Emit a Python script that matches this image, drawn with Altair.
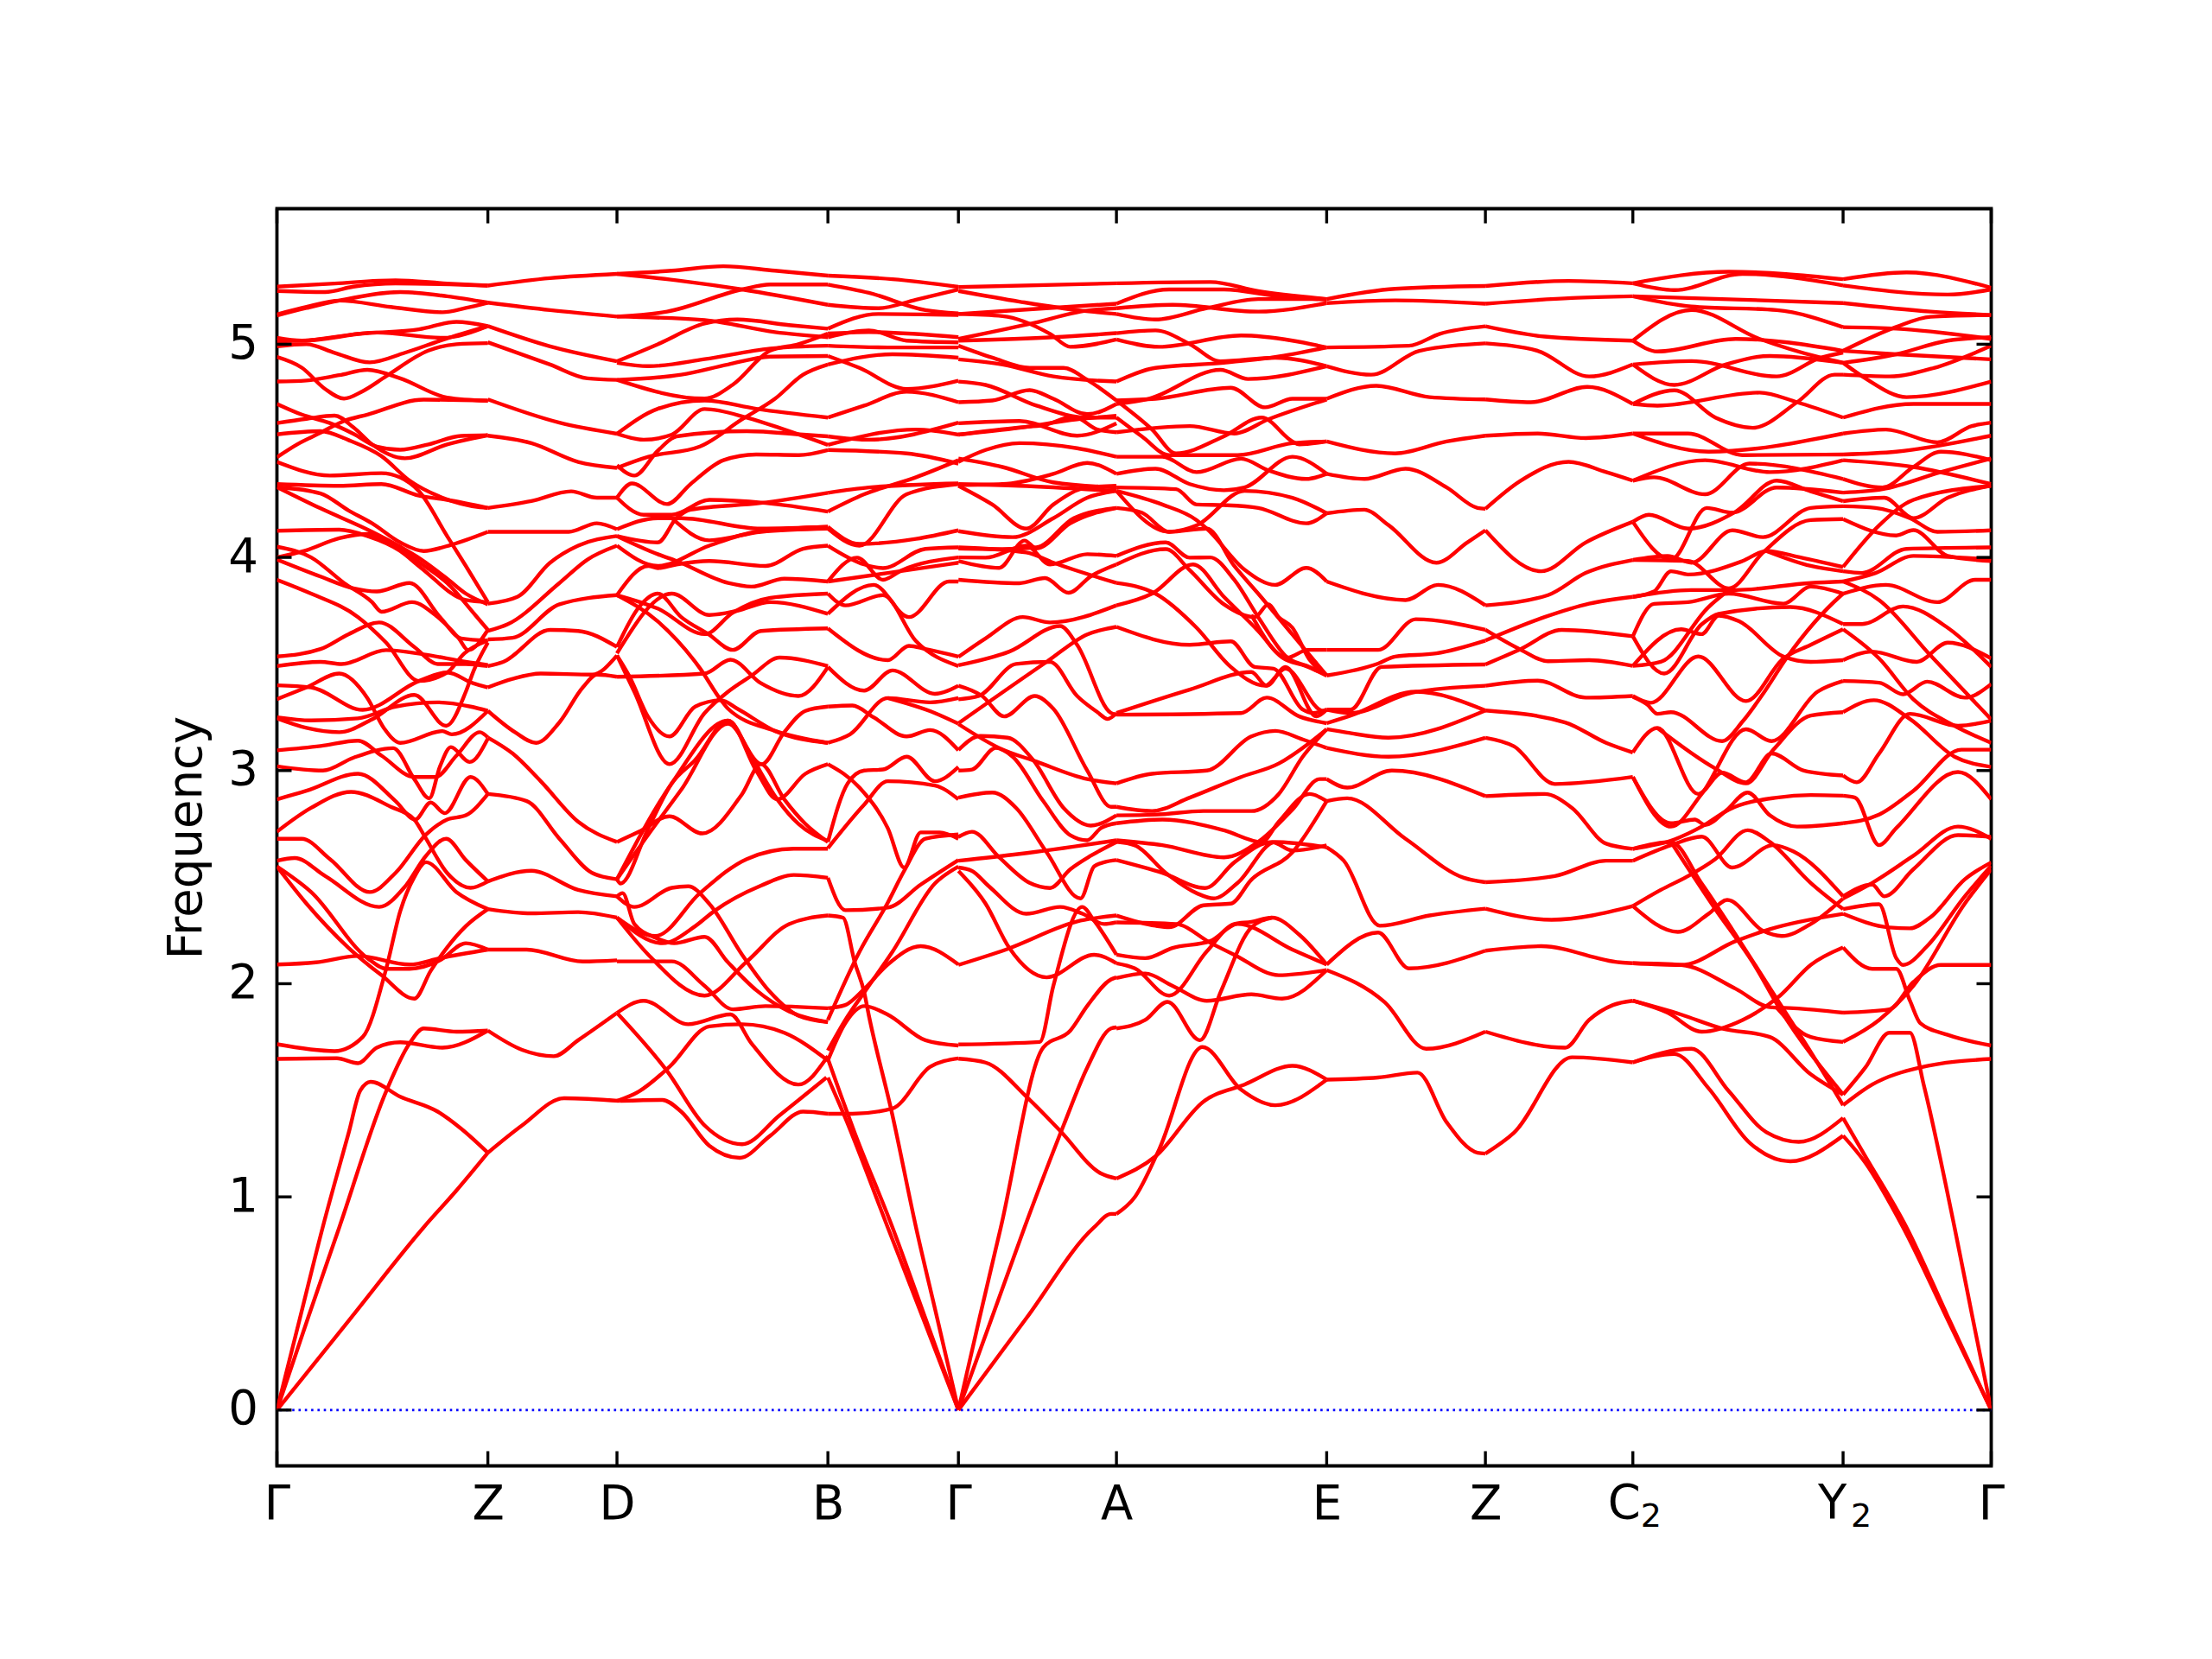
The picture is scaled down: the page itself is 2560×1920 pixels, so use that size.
import altair as alt
import pandas as pd

TICK_K = [196, 345.5, 437, 586.5, 679, 791, 940, 1052.5, 1157, 1306, 1411]
TICK_LABELS = ["Γ", "Z", "D", "B", "Γ", "A", "E", "Z", "", "", "Γ"]
SUB_K = [1157, 1306]
SUB_BASE = ["C", "Y"]
SUB_DIGIT = ["2", "2"]
FREQ_TICKS = [0, 1, 2, 3, 4, 5]

# each curve: (position read along the segment, frequency)
G_Z = [
[(37,5.27),(160,5.285),(290,5.30),(400,5.285),(487,5.275)],
[(37,5.25),(140,5.245),(200,5.27),(290,5.285),(487,5.275)],
[(37,5.135),(100,5.17),(170,5.205),(300,5.245),(400,5.225),(487,5.195)],
[(37,5.14),(100,5.175),(170,5.205),(280,5.175),(390,5.15),(440,5.17),(487,5.195)],
[(37,5.03),(90,5.017),(220,5.05),(340,5.07),(420,5.105),(487,5.085)],
[(37,5.015),(90,5.017),(250,5.055),(390,5.03),(487,5.085)],
[(37,4.99),(100,5.0),(160,4.96),(235,4.915),(310,4.96),(390,5.02),(487,5.085)],
[(37,4.94),(90,4.89),(140,4.79),(180,4.745),(220,4.78),(270,4.85),(360,4.97),(420,5.0),(487,5.005)],
[(37,4.825),(100,4.83),(170,4.855),(230,4.88),(300,4.84),(400,4.75),(487,4.735)],
[(37,4.47),(80,4.53),(130,4.585),(180,4.64),(230,4.67),(350,4.74),(487,4.735)],
[(37,4.72),(90,4.67),(150,4.63),(200,4.58),(250,4.52),(300,4.505),(360,4.53),(430,4.57),(487,4.573)],
[(37,4.63),(100,4.65),(160,4.665),(200,4.61),(240,4.53),(310,4.465),(400,4.53),(487,4.573)],
[(37,4.577),(130,4.592),(190,4.55),(260,4.475),(320,4.36),(390,4.28),(470,4.235),(487,4.232)],
[(37,4.448),(150,4.384),(260,4.395),(300,4.375),(340,4.31),(400,4.1),(440,3.96),(487,3.79)],
[(37,4.344),(170,4.336),(260,4.344),(340,4.29),(400,4.27),(487,4.232)],
[(37,4.125),(170,4.13),(230,4.10),(300,4.03),(345,3.95),(440,3.80),(487,3.79)],
[(37,4.33),(130,4.30),(190,4.22),(240,4.16),(300,4.07),(350,4.03),(410,4.06),(487,4.12)],
[(37,4.33),(130,4.23),(240,4.12),(300,4.05),(345,3.99),(400,3.9),(440,3.83),(487,3.78)],
[(37,4.05),(110,4.0),(180,3.88),(240,3.79),(260,3.745),(325,3.79),(380,3.72),(425,3.62),(445,3.565),(487,3.66)],
[(37,3.99),(130,3.91),(200,3.855),(250,3.84),(320,3.88),(385,3.72),(430,3.62),(487,3.61)],
[(37,4.0),(95,4.03),(170,4.09),(230,4.11),(290,4.05),(345,3.97),(400,3.88),(460,3.73),(487,3.66)],
[(37,3.895),(110,3.83),(210,3.72),(270,3.6),(340,3.42),(400,3.46),(437,3.55),(487,3.61)],
[(37,3.535),(130,3.57),(190,3.64),(255,3.695),(330,3.58),(380,3.5),(440,3.5),(487,3.49)],
[(37,3.49),(130,3.51),(175,3.5),(270,3.565),(350,3.545),(440,3.51),(487,3.495)],
[(37,3.40),(110,3.39),(220,3.285),(340,3.42),(400,3.46),(455,3.41),(487,3.39)],
[(37,3.335),(100,3.39),(170,3.455),(230,3.34),(265,3.2),(300,3.13),(390,3.185),(410,3.17),(487,3.28)],
[(37,3.25),(110,3.235),(210,3.245),(290,3.3),(380,3.32),(450,3.3),(487,3.28)],
[(37,3.245),(100,3.2),(170,3.18),(240,3.24),(330,3.355),(398,3.21),(440,3.37),(457,3.47),(487,3.6)],
[(37,3.095),(130,3.115),(210,3.14),(260,3.07),(330,2.97),(375,2.97),(420,3.07),(470,3.18),(487,3.155)],
[(37,3.02),(135,3.0),(200,3.06),(285,3.105),(330,2.96),(362,2.87),(385,3.02),(408,3.11),(448,3.04),(487,3.15)],
[(37,2.865),(100,2.905),(210,2.985),(290,2.857),(332,2.77),(365,2.85),(395,2.80),(450,2.97),(487,2.89)],
[(37,2.713),(110,2.825),(195,2.90),(280,2.83),(330,2.77),(350,2.70),(400,2.52),(450,2.45),(487,2.48)],
[(37,2.68),(90,2.68),(150,2.585),(235,2.43),(290,2.52),(355,2.70),(400,2.77),(440,2.79),(487,2.89)],
[(37,2.577),(75,2.59),(140,2.505),(255,2.36),(310,2.455),(355,2.60),(398,2.68),(440,2.58),(487,2.48)],
[(37,2.55),(100,2.376),(190,2.168),(260,2.04),(330,1.93),(365,2.06),(400,2.17),(440,2.27),(487,2.35)],
[(37,2.55),(110,2.43),(230,2.12),(270,2.07),(320,2.07),(385,2.11),(440,2.19),(487,2.16)],
[(37,2.09),(120,2.1),(210,2.13),(320,2.09),(385,2.12),(487,2.16)],
[(37,1.716),(160,1.684),(220,1.75),(270,2.07),(300,2.34),(330,2.5),(355,2.57),(420,2.43),(487,2.35)],
[(37,1.647),(165,1.65),(210,1.627),(250,1.70),(300,1.725),(390,1.70),(487,1.78)],
[(37,0),(86,0.43),(135,0.86),(190,1.3),(215,1.5),(237,1.54),(300,1.47),(380,1.40),(430,1.32),(487,1.207)],
[(37,0),(103,0.43),(170,0.857),(270,1.495),(320,1.72),(350,1.79),(420,1.775),(487,1.78)],
[(37,0),(194,0.43),(350,0.857),(420,1.03),(487,1.207)],
]

Z_D = [
[(487,5.275),(620,5.31),(763,5.33)],
[(487,5.195),(620,5.16),(763,5.13)],
[(487,5.085),(620,4.99),(763,4.92)],
[(487,5.009),(620,4.905),(700,4.84),(763,4.833)],
[(487,4.741),(640,4.632),(763,4.58)],
[(487,4.571),(580,4.536),(680,4.448),(763,4.42)],
[(487,4.232),(580,4.264),(665,4.31),(720,4.28),(763,4.28)],
[(487,4.12),(660,4.12),(720,4.16),(763,4.132)],
[(487,3.783),(550,3.815),(620,3.975),(680,4.055),(763,4.10)],
[(487,3.655),(530,3.687),(640,3.88),(700,3.99),(763,4.055)],
[(487,3.615),(540,3.623),(640,3.78),(763,3.823)],
[(487,3.49),(520,3.51),(620,3.66),(680,3.655),(763,3.58)],
[(487,3.39),(540,3.43),(600,3.455),(710,3.45),(763,3.54)],
[(487,3.28),(545,3.18),(590,3.13),(640,3.226),(690,3.39),(720,3.45),(763,3.44)],
[(487,3.155),(540,3.08),(600,2.95),(680,2.76),(763,2.665)],
[(487,2.89),(570,2.857),(640,2.68),(710,2.52),(763,2.49)],
[(487,2.48),(580,2.53),(680,2.44),(763,2.41)],
[(487,2.35),(580,2.33),(680,2.336),(763,2.31)],
[(487,2.16),(570,2.16),(690,2.104),(763,2.11)],
[(487,1.78),(560,1.69),(628,1.66),(680,1.735),(763,1.863)],
[(487,1.207),(560,1.335),(650,1.463),(770,1.45)],
]

D_B = [
[(763,5.33),(880,5.345),(990,5.366),(1100,5.345),(1213,5.322)],
[(763,5.33),(900,5.297),(1030,5.257),(1213,5.185)],
[(763,5.13),(870,5.153),(1030,5.257),(1090,5.28),(1213,5.28)],
[(763,5.13),(950,5.113),(1100,5.057),(1213,5.033)],
[(763,4.92),(850,5.0),(950,5.097),(1020,5.116),(1130,5.09),(1213,5.073)],
[(763,4.913),(830,4.897),(950,4.93),(1090,4.98),(1213,4.993)],
[(763,4.833),(900,4.857),(1000,4.905),(1090,4.942),(1213,4.945)],
[(763,4.833),(950,4.745),(1010,4.81),(1090,4.97),(1150,5.0),(1213,5.05)],
[(763,4.58),(850,4.697),(950,4.736),(1060,4.697),(1213,4.656)],
[(763,4.58),(820,4.552),(880,4.576),(950,4.696),(1040,4.656),(1120,4.60),(1213,4.528)],
[(763,4.432),(800,4.384),(850,4.5),(890,4.568),(1040,4.592),(1160,4.576),(1213,4.568)],
[(763,4.42),(830,4.472),(940,4.52),(1030,4.648),(1100,4.744),(1160,4.857),(1213,4.905)],
[(763,4.28),(795,4.347),(870,4.25),(920,4.344),(990,4.456),(1060,4.483),(1150,4.48),(1213,4.504)],
[(763,4.28),(820,4.2),(880,4.2),(960,4.27),(1080,4.255),(1213,4.215)],
[(763,4.132),(850,4.184),(900,4.184),(1070,4.135),(1213,4.143)],
[(763,4.10),(850,4.07),(890,4.184),(920,4.224),(1070,4.255),(1213,4.303)],
[(763,4.10),(850,4.015),(890,3.983),(1000,3.88),(1050,3.863),(1120,3.90),(1213,3.887)],
[(763,4.055),(850,3.96),(960,4.055),(1060,4.12),(1213,4.143)],
[(880,4.184),(960,4.08),(1070,4.12),(1213,4.135)],
[(763,3.823),(830,3.96),(850,3.95),(890,3.967),(960,3.983),(1080,3.96),(1160,4.04),(1213,4.055)],
[(763,3.823),(850,3.7),(940,3.48),(985,3.33),(1000,3.29),(1100,3.186),(1213,3.13)],
[(763,3.823),(850,3.76),(950,3.64),(1010,3.74),(1090,3.81),(1213,3.83)],
[(763,3.55),(880,3.83),(960,3.73),(1020,3.75),(1090,3.79),(1213,3.735)],
[(763,3.58),(810,3.767),(850,3.83),(900,3.72),(958,3.64),(1010,3.566),(1070,3.655),(1213,3.667)],
[(763,3.54),(790,3.44),(830,3.25),(875,3.16),(930,3.3),(985,3.33),(1020,3.29),(1100,3.186),(1213,3.13)],
[(763,3.44),(950,3.455),(1005,3.52),(1070,3.41),(1150,3.35),(1213,3.486)],
[(763,3.54),(800,3.37),(875,3.03),(950,3.27),(1000,3.37),(1050,3.445),(1110,3.53),(1213,3.49)],
[(763,2.665),(810,2.713),(875,2.785),(945,2.705),(1030,2.89),(1070,3.03),(1120,2.865),(1165,2.75),(1213,2.665)],
[(763,2.49),(770,2.47),(830,2.73),(880,2.94),(930,3.05),(1000,3.234),(1050,3.065),(1105,2.865),(1150,2.75),(1213,2.67)],
[(763,2.49),(880,2.94),(1000,3.234),(1060,3.0),(1105,2.865),(1165,2.985),(1213,3.03)],
[(763,2.49),(830,2.70),(900,2.91),(1000,3.22),(1072,3.03),(1120,3.18),(1165,3.28),(1213,3.30)],
[(763,2.41),(800,2.36),(880,2.45),(915,2.457),(960,2.375),(1030,2.136),(1090,1.96),(1150,1.85),(1213,1.82)],
[(763,2.41),(775,2.425),(800,2.28),(845,2.216),(885,2.19),(950,2.22),(1000,2.1),(1060,1.97),(1130,1.87),(1213,1.82)],
[(763,2.31),(845,2.224),(940,2.425),(1040,2.585),(1140,2.633),(1213,2.633)],
[(763,2.31),(860,2.19),(930,2.27),(970,2.34),(1070,2.46),(1140,2.51),(1213,2.497)],
[(763,2.31),(830,2.136),(950,1.944),(1040,2.104),(1130,2.28),(1213,2.32)],
[(763,2.105),(880,2.105),(950,1.99),(1010,1.88),(1080,1.895),(1213,1.885)],
[(763,1.863),(820,1.92),(915,1.81),(1005,1.856),(1050,1.72),(1150,1.527),(1213,1.66)],
[(763,1.863),(870,1.59),(950,1.335),(1030,1.247),(1110,1.383),(1210,1.56)],
[(770,1.45),(860,1.455),(900,1.40),(960,1.24),(1025,1.183),(1090,1.287),(1160,1.40),(1213,1.39)],
[(763,1.45),(810,1.495),(875,1.61),(960,1.80),(1030,1.81),(1120,1.77),(1213,1.64)],
]

B_G = [
[(1213,5.322),(1350,5.305),(1490,5.269)],
[(1213,5.28),(1300,5.241),(1420,5.16),(1490,5.145)],
[(1213,5.185),(1320,5.169),(1400,5.209),(1490,5.257)],
[(1213,5.073),(1320,5.142),(1490,5.137)],
[(1213,5.033),(1300,5.065),(1380,5.017),(1490,5.009)],
[(1213,5.05),(1300,5.057),(1490,5.033)],
[(1213,4.993),(1340,4.985),(1490,4.985)],
[(1213,4.945),(1280,4.889),(1380,4.79),(1490,4.829)],
[(1213,4.905),(1350,4.953),(1490,4.937)],
[(1213,4.656),(1290,4.712),(1380,4.777),(1490,4.728)],
[(1213,4.568),(1300,4.552),(1490,4.632)],
[(1213,4.528),(1400,4.6),(1490,4.576)],
[(1213,4.504),(1380,4.488),(1490,4.44)],
[(1213,4.303),(1300,4.328),(1490,4.347)],
[(1213,4.215),(1290,4.296),(1400,4.376),(1490,4.456)],
[(1213,4.143),(1280,4.063),(1400,4.087),(1490,4.127)],
[(1213,4.135),(1280,4.055),(1380,4.296),(1490,4.344)],
[(1213,4.055),(1290,3.967),(1330,3.95),(1420,4.04),(1490,4.047)],
[(1213,3.887),(1275,3.999),(1330,3.895),(1370,3.94),(1490,4.0)],
[(1213,3.887),(1340,3.927),(1490,3.975)],
[(1213,3.667),(1340,3.518),(1385,3.585),(1420,3.57),(1490,3.535)],
[(1213,3.735),(1310,3.871),(1385,3.72),(1470,3.887),(1490,3.887)],
[(1213,3.83),(1250,3.775),(1330,3.823),(1400,3.607),(1490,3.49)],
[(1213,3.486),(1290,3.375),(1350,3.47),(1440,3.36),(1490,3.398)],
[(1213,3.30),(1265,3.305),(1310,3.25),(1380,3.16),(1430,3.19),(1490,3.095)],
[(1213,3.13),(1260,3.17),(1340,3.34),(1430,3.32),(1490,3.34)],
[(1340,3.34),(1440,3.27),(1490,3.22)],
[(1213,2.665),(1255,2.94),(1290,3.0),(1330,3.005),(1380,3.065),(1440,2.95),(1490,3.017)],
[(1213,2.636),(1290,2.84),(1340,2.95),(1440,2.93),(1490,2.865)],
[(1213,3.03),(1280,2.92),(1340,2.73),(1375,2.545),(1410,2.71),(1450,2.71),(1490,2.68)],
[(1213,2.497),(1250,2.345),(1340,2.357),(1410,2.465),(1490,2.58)],
[(1213,2.32),(1245,2.31),(1270,2.1),(1290,1.96),(1300,1.85),(1350,1.383),(1400,0.857),(1445,0.43),(1490,0)],
[(1213,1.83),(1280,2.15),(1340,2.38),(1375,2.53),(1420,2.68),(1490,2.70)],
[(1213,1.687),(1250,1.83),(1295,1.975),(1350,2.15),(1440,2.47),(1490,2.55)],
[(1213,1.64),(1250,1.815),(1290,1.895),(1340,1.855),(1420,1.735),(1490,1.71)],
[(1213,1.885),(1250,1.9),(1290,1.975),(1340,2.09),(1410,2.176),(1490,2.09)],
[(1213,1.56),(1250,1.37),(1340,0.857),(1415,0.43),(1490,0)],
[(1213,1.39),(1265,1.39),(1350,1.415),(1430,1.61),(1490,1.65)],
[(1213,1.647),(1240,1.48),(1270,1.3),(1350,0.857),(1420,0.43),(1490,0)],
]

G_A = [
[(20,5.268),(486,5.286)],
[(20,5.25),(200,5.2),(380,5.158),(486,5.142)],
[(20,5.142),(150,5.132),(290,5.049),(350,4.988),(486,5.022)],
[(20,5.142),(200,5.161),(486,5.19)],
[(20,5.025),(230,5.095),(400,5.158),(486,5.169)],
[(20,5.017),(300,5.033),(486,5.052)],
[(20,4.993),(120,4.937),(230,4.889),(330,4.889),(400,4.833),(486,4.736)],
[(20,4.929),(150,4.905),(300,4.849),(486,4.825)],
[(20,4.825),(100,4.809),(250,4.712),(400,4.656),(486,4.656)],
[(20,4.728),(120,4.736),(230,4.785),(300,4.744),(400,4.672),(486,4.72)],
[(20,4.629),(200,4.64),(370,4.571),(486,4.629)],
[(20,4.576),(200,4.608),(370,4.648),(486,4.664)],
[(20,4.576),(200,4.61),(270,4.62),(360,4.66),(430,4.6),(486,4.587)],
[(20,4.448),(100,4.504),(200,4.536),(370,4.512),(486,4.472)],
[(20,4.464),(150,4.424),(300,4.352),(486,4.328)],
[(20,4.344),(200,4.336),(486,4.312)],
[(20,4.34),(150,4.344),(300,4.392),(400,4.443),(486,4.392)],
[(20,4.336),(120,4.248),(220,4.135),(300,4.248),(400,4.328),(486,4.336)],
[(20,4.123),(180,4.095),(300,4.184),(400,4.28),(486,4.312)],
[(20,4.042),(150,4.039),(250,4.047),(360,4.184),(486,4.232)],
[(20,4.047),(220,4.023),(300,3.975),(486,3.88)],
[(20,3.983),(140,3.951),(215,4.079),(250,4.042),(350,4.16),(486,4.232)],
[(20,4.0),(100,3.999),(220,4.055),(290,3.967),(400,4.015),(486,4.007)],
[(20,3.895),(200,3.879),(275,3.903),(345,3.834),(410,3.911),(486,3.967)],
[(20,3.533),(100,3.62),(210,3.72),(290,3.695),(486,3.775)],
[(20,3.494),(170,3.558),(320,3.678),(370,3.59),(470,3.27),(486,3.262)],
[(20,3.398),(90,3.35),(155,3.254),(245,3.35),(300,3.29),(400,3.0),(470,2.83),(486,2.83)],
[(20,3.334),(80,3.35),(190,3.50),(290,3.51),(370,3.35),(430,3.274),(460,3.242),(486,3.27)],
[(20,3.222),(280,3.51),(400,3.639),(486,3.674)],
[(20,3.218),(140,3.106),(250,3.042),(400,2.96),(486,2.94)],
[(20,3.097),(85,3.162),(165,3.154),(240,3.05),(330,2.825),(410,2.742),(486,2.79)],
[(20,3.0),(60,3.005),(130,3.106),(180,3.065),(270,2.857),(350,2.697),(400,2.673),(440,2.73),(486,2.753)],
[(20,2.873),(120,2.897),(190,2.825),(280,2.617),(380,2.40),(420,2.55),(450,2.57),(486,2.58)],
[(20,2.689),(60,2.713),(140,2.593),(230,2.473),(290,2.449),(350,2.537),(410,2.6),(486,2.665)],
[(20,2.577),(200,2.609),(486,2.673)],
[(20,2.545),(60,2.529),(110,2.457),(220,2.328),(320,2.36),(386,2.328),(450,2.28),(486,2.288)],
[(20,2.529),(100,2.376),(170,2.168),(280,2.03),(420,2.136),(486,2.096)],
[(20,2.088),(160,2.16),(380,2.296),(486,2.32)],
[(20,1.715),(260,1.727),(300,1.99),(385,2.36),(420,2.296),(486,2.136)],
[(20,0),(82,0.43),(145,0.857),(270,1.70),(350,1.78),(400,1.896),(470,2.02),(486,2.03)],
[(20,0),(118,0.43),(215,0.857),(330,1.335),(400,1.607),(470,1.79),(486,1.795)],
[(20,0),(220,0.43),(420,0.857),(470,0.92),(486,0.92)],
[(20,1.648),(100,1.63),(225,1.463),(320,1.31),(440,1.11),(486,1.086)],
]

A_E = [
[(486,5.286),(760,5.292),(900,5.249),(1100,5.212)],
[(486,5.19),(640,5.257),(800,5.257),(960,5.225),(1100,5.209)],
[(486,5.169),(650,5.185),(900,5.153),(1100,5.193)],
[(486,5.142),(600,5.116),(750,5.169),(900,5.212),(1100,5.212)],
[(486,5.052),(600,5.065),(700,5.001),(790,4.92),(950,4.937),(1100,4.897)],
[(486,5.022),(610,4.988),(850,5.041),(1000,5.017),(1100,4.985)],
[(486,4.825),(600,4.889),(800,4.913),(950,4.94),(1100,4.985)],
[(486,4.736),(600,4.744),(820,4.796),(920,4.704),(1000,4.744),(1100,4.744)],
[(486,4.72),(580,4.744),(790,4.88),(870,4.837),(1100,4.897)],
[(486,4.736),(590,4.6),(660,4.488),(800,4.568),(910,4.656),(1000,4.544),(1020,4.53),(1100,4.544)],
[(486,4.656),(560,4.568),(640,4.48),(840,4.48),(1000,4.536),(1100,4.544)],
[(486,4.587),(700,4.616),(830,4.581),(930,4.648),(1100,4.741)],
[(486,4.472),(620,4.472),(720,4.4),(850,4.463),(930,4.408),(1040,4.368),(1100,4.392)],
[(486,4.392),(600,4.416),(700,4.344),(800,4.315),(860,4.328),(1000,4.472),(1100,4.392)],
[(486,4.328),(660,4.32),(720,4.248),(800,4.245),(900,4.232),(1040,4.16),(1100,4.207)],
[(486,4.312),(620,4.248),(720,4.175),(750,4.135),(860,3.943),(950,3.871),(1040,3.951),(1100,3.887)],
[(486,4.312),(640,4.12),(720,4.15),(860,4.312),(1000,4.28),(1100,4.207)],
[(486,4.232),(560,4.21),(640,4.12),(750,4.135),(830,3.96),(900,3.83),(1000,3.638),(1100,3.446)],
[(486,4.007),(630,4.07),(700,3.999),(760,4.0),(830,3.895),(900,3.72),(985,3.53),(1050,3.486),(1100,3.446)],
[(486,3.967),(630,4.039),(700,3.94),(800,3.78),(890,3.72),(930,3.78),(960,3.72),(1000,3.67),(1050,3.52),(1100,3.446)],
[(486,3.88),(600,3.83),(720,3.67),(820,3.486),(920,3.398),(980,3.478),(1090,3.28),(1100,3.286)],
[(486,3.775),(590,3.83),(710,3.967),(800,3.815),(900,3.655),(970,3.53),(1040,3.49),(1100,3.446)],
[(486,3.674),(700,3.59),(820,3.606),(890,3.486),(945,3.478),(1030,3.286),(1060,3.27),(1100,3.286)],
[(486,3.27),(700,3.38),(880,3.462),(925,3.398),(980,3.486),(1070,3.254),(1100,3.286)],
[(486,3.262),(850,3.27),(925,3.342),(1020,3.254),(1100,3.222)],
[(880,3.73),(985,3.53),(1045,3.566),(1100,3.566)],
[(486,2.94),(590,2.985),(750,3.0),(880,3.16),(950,3.186),(1030,3.146),(1100,3.106)],
[(486,2.83),(590,2.81),(700,2.873),(850,2.97),(960,3.033),(1050,3.13),(1100,3.194)],
[(486,2.79),(600,2.793),(740,2.81),(880,2.81),(960,2.89),(1030,3.065),(1100,3.194)],
[(486,2.753),(620,2.77),(800,2.72),(910,2.665),(960,2.76),(1050,2.89),(1100,2.857)],
[(486,2.673),(620,2.65),(800,2.593),(900,2.665),(1000,2.817),(1080,2.96),(1100,2.96)],
[(486,2.665),(540,2.649),(630,2.52),(720,2.425),(770,2.4),(840,2.473),(950,2.665),(1100,2.64)],
[(486,2.58),(620,2.52),(745,2.449),(830,2.569),(940,2.665),(1000,2.625),(1100,2.649)],
[(486,2.32),(600,2.272),(640,2.265),(740,2.368),(820,2.376),(880,2.488),(1000,2.617),(1100,2.857)],
[(486,2.288),(660,2.28),(760,2.192),(830,2.136),(960,2.04),(1100,2.064)],
[(486,2.136),(570,2.12),(650,2.168),(760,2.2),(840,2.28),(1000,2.16),(1100,2.09)],
[(486,2.096),(540,2.072),(640,1.944),(750,2.152),(830,2.28),(880,2.29),(940,2.31),(1020,2.23),(1100,2.09)],
[(486,2.027),(570,2.048),(650,1.99),(750,1.92),(880,1.95),(970,1.93),(1100,2.064)],
[(486,1.79),(570,1.83),(635,1.915),(730,1.735),(790,1.96),(880,2.264),(940,2.31)],
[(486,1.086),(600,1.19),(740,1.447),(860,1.527),(1000,1.615),(1100,1.55)],
[(486,0.92),(540,1.0),(610,1.22),(737,1.703),(850,1.503),(950,1.43),(1100,1.55)],
]

E_Z = [
[(1100,5.212),(1300,5.26),(1563,5.273)],
[(1100,5.193),(1300,5.206),(1563,5.19)],
[(1100,4.985),(1340,4.993),(1430,5.049),(1563,5.084)],
[(1100,4.897),(1230,4.857),(1370,4.969),(1563,5.004)],
[(1100,4.744),(1245,4.805),(1400,4.752),(1563,4.741)],
[(1100,4.544),(1300,4.488),(1450,4.544),(1563,4.571)],
[(1100,4.392),(1210,4.368),(1330,4.416),(1450,4.328),(1540,4.232),(1563,4.228)],
[(1100,4.207),(1210,4.224),(1280,4.152),(1420,3.975),(1510,4.07),(1563,4.127)],
[(1100,3.887),(1330,3.8),(1425,3.871),(1563,3.775)],
[(1100,3.566),(1250,3.566),(1360,3.71),(1563,3.66)],
[(1100,3.446),(1250,3.502),(1300,3.535),(1420,3.55),(1563,3.61)],
[(1100,3.286),(1170,3.286),(1260,3.486),(1563,3.498)],
[(1100,3.286),(1170,3.27),(1350,3.366),(1563,3.398)],
[(1100,3.222),(1170,3.258),(1360,3.37),(1563,3.282)],
[(1100,3.106),(1280,3.065),(1563,3.154)],
[(1100,3.194),(1160,3.178),(1280,3.154),(1563,3.282)],
[(1100,2.96),(1160,2.92),(1290,3.0),(1563,2.88)],
[(1100,2.857),(1160,2.87),(1330,2.68),(1500,2.497),(1563,2.476)],
[(1100,2.64),(1150,2.577),(1255,2.272),(1400,2.32),(1563,2.352)],
[(1100,2.09),(1250,2.24),(1340,2.072),(1563,2.155)],
[(1100,2.064),(1270,1.912),(1390,1.695),(1563,1.775)],
[(1100,1.55),(1250,1.56),(1365,1.583),(1450,1.35),(1540,1.207),(1563,1.203)],
]

Z_C = [
[(47,5.273),(290,5.297),(478,5.286)],
[(47,5.19),(300,5.217),(478,5.225)],
[(47,5.084),(220,5.036),(478,5.017)],
[(47,5.004),(200,4.969),(350,4.849),(478,4.905)],
[(47,4.741),(180,4.728),(345,4.8),(478,4.72)],
[(47,4.571),(200,4.581),(340,4.56),(478,4.581)],
[(47,4.228),(150,4.36),(290,4.448),(400,4.4),(478,4.36)],
[(47,4.127),(210,3.935),(340,4.07),(478,4.167)],
[(47,3.775),(230,3.823),(340,3.927),(478,3.988)],
[(47,3.61),(220,3.72),(350,3.783),(478,3.815)],
[(47,3.498),(150,3.57),(270,3.66),(478,3.63)],
[(47,3.66),(150,3.567),(230,3.513),(350,3.518),(478,3.491)],
[(47,3.398),(200,3.422),(340,3.342),(478,3.35)],
[(47,3.282),(280,3.226),(400,3.13),(478,3.085)],
[(47,3.154),(130,3.114),(250,2.937),(478,2.97)],
[(47,2.88),(220,2.89),(300,2.825),(400,2.657),(478,2.633)],
[(47,2.476),(250,2.505),(400,2.577),(478,2.577)],
[(47,2.352),(240,2.3),(478,2.364)],
[(47,2.155),(210,2.176),(440,2.1),(478,2.096)],
[(47,1.775),(280,1.7),(350,1.83),(420,1.9),(478,1.92)],
[(47,1.203),(130,1.3),(300,1.655),(478,1.631)],
]

C_Y = [
[(478,5.286),(760,5.34),(1095,5.305)],
[(478,5.286),(600,5.254),(800,5.33),(1095,5.276)],
[(478,5.225),(800,5.209),(1095,5.193)],
[(478,5.225),(650,5.177),(900,5.16),(1095,5.08)],
[(478,5.017),(650,5.161),(850,5.025),(1030,4.937),(1095,4.913)],
[(478,5.017),(550,4.966),(780,5.025),(1095,4.969)],
[(478,4.905),(650,4.921),(900,4.849),(1030,4.937),(1095,4.961)],
[(478,4.905),(600,4.809),(750,4.905),(880,4.945),(1095,4.913)],
[(478,4.72),(600,4.784),(720,4.656),(830,4.608),(960,4.728),(1070,4.857),(1095,4.857)],
[(478,4.72),(550,4.712),(850,4.773),(960,4.728),(1095,4.656)],
[(478,4.581),(640,4.581),(800,4.48),(1095,4.483)],
[(478,4.581),(700,4.496),(1095,4.581)],
[(478,4.36),(540,4.376),(690,4.296),(820,4.44),(1095,4.368)],
[(478,4.36),(690,4.456),(880,4.4),(1095,4.456)],
[(478,4.167),(525,4.2),(640,4.135),(780,4.215),(900,4.36),(1000,4.31),(1095,4.264)],
[(478,4.167),(590,3.99),(695,4.232),(770,4.21),(900,4.328),(1095,4.304)],
[(478,3.988),(580,4.007),(650,3.975),(770,4.127),(860,4.095),(1000,4.232),(1095,4.24)],
[(478,3.988),(640,3.983),(760,3.855),(860,4.023),(1000,4.175),(1095,4.18)],
[(478,3.815),(540,3.84),(590,3.935),(640,3.92),(800,3.983),(870,4.03),(970,4.0),(1095,3.955)],
[(870,4.03),(1000,3.96),(1095,3.935)],
[(478,3.815),(650,3.847),(780,3.847),(1000,3.88),(1095,3.887)],
[(478,3.63),(540,3.782),(640,3.79),(760,3.83),(920,3.783),(1000,3.863),(1095,3.83)],
[(478,3.63),(570,3.455),(680,3.686),(730,3.735),(940,3.767),(1095,3.687)],
[(478,3.491),(620,3.663),(680,3.64),(730,3.727),(790,3.70),(920,3.535),(1000,3.51),(1095,3.518)],
[(478,3.491),(560,3.51),(700,3.767),(760,3.847)],
[(478,3.35),(530,3.318),(670,3.535),(810,3.326),(920,3.526),(1000,3.59),(1095,3.663)],
[(478,3.085),(550,3.2),(670,2.89),(740,2.99),(810,2.945),(885,3.08),(980,3.0),(1095,2.977)],
[(550,3.2),(720,3.01),(810,2.94),(890,3.097),(1000,3.258),(1095,3.274)],
[(478,3.346),(520,3.31),(550,3.266),(590,3.274),(740,3.138),(800,3.23),(860,3.36),(930,3.53),(1090,3.823),(1095,3.83)],
[(478,2.97),(590,2.737),(680,2.89),(810,3.194),(885,3.138),(1020,3.37),(1095,3.42)],
[(478,2.97),(590,2.753),(660,2.77),(690,2.745),(750,2.81),(815,2.897),(880,2.79),(960,2.737),(1095,2.753)],
[(478,2.633),(600,2.677),(680,2.737),(760,2.817),(900,2.873),(1000,2.885),(1095,2.882)],
[(478,2.577),(590,2.65),(680,2.69),(770,2.545),(890,2.65),(950,2.62),(1095,2.41)],
[(478,2.364),(560,2.44),(640,2.505),(720,2.585),(815,2.72),(880,2.665),(1000,2.473),(1095,2.35)],
[(478,2.364),(610,2.243),(700,2.328),(755,2.393),(860,2.248),(915,2.224),(1000,2.28),(1095,2.4)],
[(478,2.096),(620,2.088),(780,2.2),(880,2.256),(1095,2.328)],
[(478,2.096),(620,2.088),(780,1.976),(880,1.89),(950,1.885),(1095,1.864)],
[(900,1.888),(1000,1.75),(1095,1.727)],
[(478,1.92),(620,1.855),(740,1.79),(880,1.75),(1000,1.575),(1095,1.48)],
[(478,1.92),(580,1.864),(680,1.775),(800,1.83),(910,1.944),(1000,2.088),(1095,2.17)],
[(478,1.631),(650,1.695),(760,1.495),(870,1.303),(965,1.258),(1095,1.37)],
[(478,1.631),(600,1.67),(700,1.51),(820,1.255),(940,1.167),(1095,1.287)],
[(478,2.633),(590,2.665),(680,2.47),(800,2.18),(900,1.93),(1000,1.68),(1095,1.43)],
[(590,2.665),(720,2.35),(830,2.1),(910,1.88),(1095,1.48)],
]

Y_G = [
[(1095,5.305),(1280,5.337),(1527,5.265)],
[(1095,5.276),(1400,5.233),(1527,5.257)],
[(1095,5.193),(1350,5.153),(1527,5.137)],
[(1095,5.08),(1250,5.073),(1527,5.025)],
[(1095,4.969),(1250,5.081),(1350,5.129),(1527,5.137)],
[(1095,4.969),(1250,4.953),(1527,4.929)],
[(1095,4.913),(1250,4.953),(1400,5.017),(1527,5.033)],
[(1095,4.913),(1160,4.84),(1280,4.752),(1527,4.825)],
[(1095,4.857),(1230,4.849),(1360,4.889),(1527,4.993)],
[(1095,4.656),(1300,4.72),(1527,4.72)],
[(1095,4.581),(1220,4.6),(1370,4.54),(1470,4.616),(1527,4.632)],
[(1095,4.483),(1250,4.496),(1527,4.571)],
[(1095,4.456),(1300,4.424),(1527,4.344)],
[(1095,4.368),(1210,4.328),(1300,4.424),(1380,4.496),(1527,4.456)],
[(1095,4.304),(1210,4.32),(1380,4.4),(1527,4.464)],
[(1095,4.264),(1215,4.28),(1300,4.184),(1400,4.28),(1527,4.336)],
[(1095,4.24),(1190,4.232),(1290,4.184),(1370,4.12),(1527,4.127)],
[(1095,4.18),(1250,4.103),(1300,4.128),(1400,4.007),(1527,3.983)],
[(1095,3.955),(1200,4.15),(1300,4.27),(1527,4.336)],
[(1095,3.935),(1150,3.927),(1280,4.04),(1527,4.047)],
[(1095,3.887),(1190,3.927),(1300,4.007),(1527,3.99)],
[(1095,3.83),(1220,3.871),(1370,3.79),(1480,3.895),(1527,3.895)],
[(1095,3.887),(1200,3.8),(1350,3.54),(1527,3.24)],
[(1095,3.687),(1150,3.687),(1270,3.77),(1400,3.67),(1527,3.486)],
[(1095,3.663),(1200,3.526),(1300,3.334),(1420,3.21),(1527,3.13)],
[(1095,3.518),(1180,3.558),(1310,3.51),(1400,3.6),(1527,3.526)],
[(1095,3.42),(1200,3.412),(1270,3.358),(1340,3.417),(1450,3.342),(1527,3.406)],
[(1095,3.274),(1185,3.33),(1290,3.242),(1420,3.065),(1527,3.017)],
[(1095,2.977),(1135,2.945),(1200,3.08),(1290,3.266),(1430,3.21),(1527,3.234)],
[(1095,2.882),(1130,2.873),(1200,2.65),(1250,2.73),(1430,2.993),(1527,2.865)],
[(1095,2.753),(1200,2.793),(1300,2.905),(1440,3.098),(1527,3.098)],
[(1095,2.41),(1180,2.465),(1215,2.41),(1300,2.537),(1430,2.697),(1527,2.689)],
[(1095,2.4),(1180,2.473),(1300,2.6),(1430,2.737),(1527,2.68)],
[(1095,2.35),(1200,2.373),(1250,2.12),(1270,2.088),(1340,2.176),(1450,2.41),(1527,2.553)],
[(1095,2.328),(1230,2.264),(1290,2.26),(1350,2.312),(1450,2.49),(1527,2.569)],
[(1095,2.17),(1180,2.07),(1250,2.07),(1290,1.92),(1320,1.815),(1400,1.76),(1527,1.71)],
[(1095,1.864),(1230,1.88),(1300,2.008),(1380,2.088),(1527,2.088)],
[(1095,1.727),(1200,1.83),(1300,1.99),(1450,2.376),(1527,2.537)],
[(1095,1.48),(1160,1.607),(1230,1.77),(1290,1.77),(1330,1.527),(1420,0.857),(1473,0.43),(1527,0)],
[(1095,1.43),(1180,1.527),(1320,1.607),(1527,1.647)],
[(1095,1.37),(1160,1.19),(1280,0.857),(1400,0.44),(1527,0)],
[(1095,1.287),(1160,1.16),(1270,0.857),(1400,0.424),(1527,0)],
]

SEGMENTS = [
    (G_Z, 37, 487, 0), (Z_D, 487, 763, 1), (D_B, 763, 1213, 2), (B_G, 1213, 1490, 3),
    (G_A, 20, 486, 4), (A_E, 486, 1100, 5), (E_Z, 1100, 1563, 6),
    (Z_C, 47, 478, 7), (C_Y, 478, 1095, 8), (Y_G, 1095, 1527, 9),
]

rows = []
cid = 0
for curves, q0, q1, s in SEGMENTS:
    k0, k1 = TICK_K[s], TICK_K[s + 1]
    for c in curves:
        for i, (q, f) in enumerate(c):
            rows.append({"k": k0 + (q - q0) / (q1 - q0) * (k1 - k0), "f": f, "c": cid, "i": i})
        cid += 1
df = pd.DataFrame(rows)

FONT = "DejaVu Sans"
W, H = 1984, 1455
xs = alt.Scale(domain=[196, 1411], nice=False, zero=False)
ys = alt.Scale(domain=[-0.262, 5.636], nice=False, zero=False)
label_expr = "[" + ",".join(f"'{t}'" for t in TICK_LABELS) + "][indexof([" + ",".join(str(t) for t in TICK_K) + "],datum.value)]"

lines = alt.Chart(df).mark_line(color="#ff0000", strokeWidth=4.4, interpolate="monotone", clip=True).encode(
    x=alt.X("k:Q", scale=xs, title=None,
            axis=alt.Axis(values=TICK_K, labelExpr=label_expr, grid=False, domain=False, ticks=False,
                          labelFont=FONT, labelFontSize=54.5, labelColor="black", labelPadding=18,
                          labelFlush=False, labelOverlap=False, labelBound=False)),
    y=alt.Y("f:Q", scale=ys, title="Frequency",
            axis=alt.Axis(values=FREQ_TICKS, format="d", grid=False, domain=False, ticks=False,
                          labelFont=FONT, labelFontSize=54.5, labelColor="black", labelPadding=22,
                          titleFont=FONT, titleFontSize=54.5, titleFontWeight="normal", titleColor="black",
                          titlePadding=20, labelOverlap=False)),
    detail="c:N",
    order="i:Q",
)

zero = alt.Chart(pd.DataFrame({"f": [0]})).mark_rule(color="#0000ff", strokeWidth=2.6, strokeDash=[2.6, 4.7]).encode(
    y=alt.Y("f:Q", scale=ys))

kdf = pd.DataFrame({"k": TICK_K})
fdf = pd.DataFrame({"f": FREQ_TICKS})
TL = 17
def xtick(a, b):
    return alt.Chart(kdf).mark_rule(color="black", strokeWidth=3.4).encode(
        x=alt.X("k:Q", scale=xs), y=alt.value(a), y2=alt.value(b))
def ytick(a, b):
    return alt.Chart(fdf).mark_rule(color="black", strokeWidth=3.4).encode(
        y=alt.Y("f:Q", scale=ys), x=alt.value(a), x2=alt.value(b))

sub_df = pd.DataFrame({"k": SUB_K, "base": SUB_BASE, "digit": SUB_DIGIT})
base_text = alt.Chart(sub_df).mark_text(font=FONT, fontSize=54.5, color="black", align="left", baseline="alphabetic", dx=-29).encode(
    x=alt.X("k:Q", scale=xs), y=alt.value(H + 60), text="base:N")
digit_text = alt.Chart(sub_df).mark_text(font=FONT, fontSize=38, color="black", align="left", baseline="alphabetic", dx=9).encode(
    x=alt.X("k:Q", scale=xs), y=alt.value(H + 70), text="digit:N")

chart = alt.layer(
    lines, zero, xtick(0, TL), xtick(H - TL, H), ytick(0, TL), ytick(W - TL, W), base_text, digit_text
).properties(
    width=W, height=H,
    padding={"left": 312.5, "top": 233.5, "right": 240, "bottom": 215},
    background="white",
    autosize=alt.AutoSizeParams(type="none"),
).configure_view(stroke="black", strokeWidth=3.8)

chart.save("out.html", embed_options={"renderer": "svg", "actions": False})
